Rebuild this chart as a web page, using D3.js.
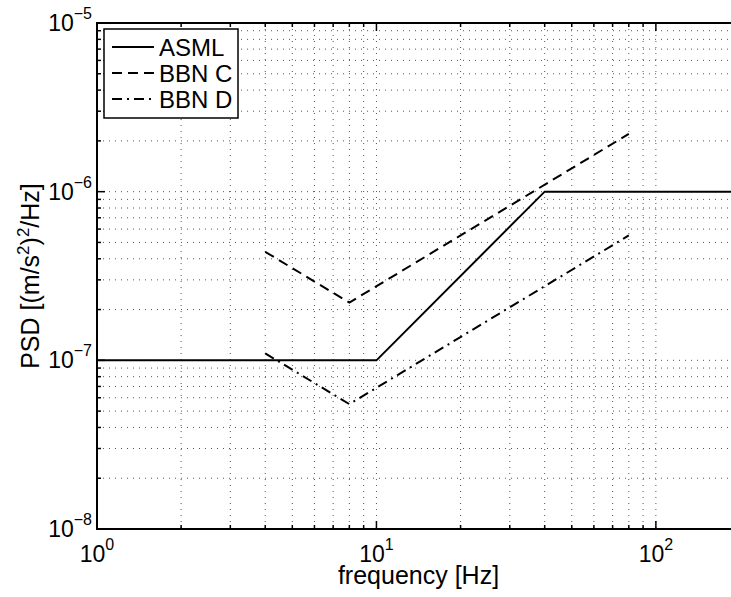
<!DOCTYPE html>
<html>
<head>
<meta charset="utf-8">
<script src="https://cdn.jsdelivr.net/npm/d3@7"></script>
<style>
  body { margin: 0; background: #fff; }
  text { font-family: "Liberation Sans", Arial, Helvetica, sans-serif; fill: #000; }
</style>
</head>
<body>
<div class="container"></div>
<script>
// series data (frequency in Hz, PSD in (m/s^2)^2/Hz)
var asmlFreq = [1, 10, 40, 200];
var asmlPsd = [1e-7, 1e-7, 1e-6, 1e-6];
var bbnCFreq = [4, 8, 80];
var bbnCPsd = [4.4e-7, 2.2e-7, 2.2e-6];
var bbnDFreq = [4, 8, 80];
var bbnDPsd = [1.1e-7, 5.5e-8, 5.5e-7];

var xTicks = [1, 10, 100];
var xTickExp = ["0", "1", "2"];
var yTicks = [1e-8, 1e-7, 1e-6, 1e-5];
var yTickExp = ["\u22128", "\u22127", "\u22126", "\u22125"];
var seriesNames = ["ASML", "BBN C", "BBN D"];

var width = 731;
var height = 597;
var plotLeft = 97, plotRight = 740, plotTop = 23, plotBottom = 529;

var svg = d3
  .select(".container")
  .append("svg")
  .attr("width", width)
  .attr("height", height);

svg.append("rect").attr("width", width).attr("height", height).attr("fill", "#fff");

var x = d3.scaleLog().domain([1, 200]).range([plotLeft, plotRight]);
var y = d3.scaleLog().domain([1e-8, 1e-5]).range([plotBottom, plotTop]);

// grid values: 1..9 x 10^k inside the domain
function logValues(lo, hi) {
  var out = [];
  for (var e = Math.floor(Math.log10(lo)); e <= Math.ceil(Math.log10(hi)); e++) {
    for (var k = 1; k <= 9; k++) {
      var v = k * Math.pow(10, e);
      if (v >= lo * 0.999 && v <= hi * 1.001) out.push(v);
    }
  }
  return out;
}
var xGrid = logValues(1, 200);
var yGrid = logValues(1e-8, 1e-5);

function isMajor(v) {
  var l = Math.log10(v);
  return Math.abs(l - Math.round(l)) < 1e-6;
}

var grid = svg.append("g").attr("class", "grid");
grid
  .selectAll("line.gx")
  .data(xGrid.filter(function (d) { return d > 1 && d < 200; }))
  .enter()
  .append("line")
  .attr("x1", function (d) { return x(d); })
  .attr("x2", function (d) { return x(d); })
  .attr("y1", plotTop)
  .attr("y2", plotBottom)
  .attr("stroke", "#555")
  .attr("stroke-width", 1)
  .attr("stroke-dasharray", "1,5");
grid
  .selectAll("line.gy")
  .data(yGrid.filter(function (d) { return d > 1e-8 && d < 1e-5; }))
  .enter()
  .append("line")
  .attr("y1", function (d) { return y(d); })
  .attr("y2", function (d) { return y(d); })
  .attr("x1", plotLeft)
  .attr("x2", plotRight)
  .attr("stroke", "#555")
  .attr("stroke-width", 1)
  .attr("stroke-dasharray", "1,5");

// ticks (inside, on all box sides)
var ticks = svg.append("g").attr("class", "ticks");
xGrid.forEach(function (d) {
  var len = isMajor(d) ? 8 : 4;
  ticks.append("line").attr("x1", x(d)).attr("x2", x(d)).attr("y1", plotBottom).attr("y2", plotBottom - len)
    .attr("stroke", "#000").attr("stroke-width", 1.5);
  ticks.append("line").attr("x1", x(d)).attr("x2", x(d)).attr("y1", plotTop).attr("y2", plotTop + len)
    .attr("stroke", "#000").attr("stroke-width", 1.5);
});
yGrid.forEach(function (d) {
  var len = isMajor(d) ? 8 : 4;
  ticks.append("line").attr("y1", y(d)).attr("y2", y(d)).attr("x1", plotLeft).attr("x2", plotLeft + len)
    .attr("stroke", "#000").attr("stroke-width", 1.5);
});

// axes box
svg.append("path")
  .attr("d", "M" + plotRight + "," + plotTop + "H" + plotLeft + "V" + plotBottom + "H" + plotRight)
  .attr("fill", "none")
  .attr("stroke", "#000")
  .attr("stroke-width", 2);

// tick labels
var tickFont = 23;
xTicks.forEach(function (d, i) {
  var t = svg.append("text")
    .attr("x", x(d))
    .attr("y", plotBottom + 33)
    .attr("text-anchor", "middle")
    .style("font-size", tickFont + "px");
  t.append("tspan").text("10");
  t.append("tspan").attr("dy", -12).style("font-size", "16px").text(xTickExp[i]);
});
yTicks.forEach(function (d, i) {
  var t = svg.append("text")
    .attr("x", plotLeft - 5)
    .attr("y", y(d) + 8)
    .attr("text-anchor", "end")
    .style("font-size", tickFont + "px");
  t.append("tspan").text("10");
  t.append("tspan").attr("dy", -12).style("font-size", "16px").text(yTickExp[i]);
});

// axis labels
svg.append("text")
  .attr("x", (plotLeft + plotRight) / 2)
  .attr("y", 584)
  .attr("text-anchor", "middle")
  .style("font-size", "25px")
  .text("frequency [Hz]");

var yl = svg.append("text")
  .attr("transform", "translate(39," + (plotTop + plotBottom) / 2 + ") rotate(-90)")
  .attr("text-anchor", "middle")
  .style("font-size", "25px");
yl.append("tspan").text("PSD [(m/s");
yl.append("tspan").attr("dy", -10).style("font-size", "17px").text("2");
yl.append("tspan").attr("dy", 10).text(")");
yl.append("tspan").attr("dy", -10).style("font-size", "17px").text("2");
yl.append("tspan").attr("dy", 10).text("/Hz]");

// lines
var line = d3
  .line()
  .x(function (d) { return x(d[0]); })
  .y(function (d) { return y(d[1]); });

var series = [
  { f: asmlFreq, p: asmlPsd, dash: null },
  { f: bbnCFreq, p: bbnCPsd, dash: "10,6" },
  { f: bbnDFreq, p: bbnDPsd, dash: "10,5,2,5" },
];

svg.selectAll("path.series")
  .data(series)
  .enter()
  .append("path")
  .attr("class", "series")
  .attr("d", function (s) {
    return line(s.f.map(function (v, i) { return [v, s.p[i]]; }));
  })
  .attr("fill", "none")
  .attr("stroke", "#000")
  .attr("stroke-width", 2)
  .attr("stroke-dasharray", function (s) { return s.dash; });

// legend
var legend = svg.append("g").attr("transform", "translate(104,29)");
legend.append("rect")
  .attr("width", 134)
  .attr("height", 89)
  .attr("fill", "#fff")
  .attr("stroke", "#000")
  .attr("stroke-width", 1.5);
seriesNames.forEach(function (name, i) {
  var yy = 18 + i * 26;
  legend.append("line")
    .attr("x1", 8).attr("x2", 50).attr("y1", yy).attr("y2", yy)
    .attr("stroke", "#000").attr("stroke-width", 2)
    .attr("stroke-dasharray", series[i].dash);
  legend.append("text")
    .attr("x", 55)
    .attr("y", yy + 9)
    .style("font-size", "24px")
    .text(name);
});
</script>
</body>
</html>
